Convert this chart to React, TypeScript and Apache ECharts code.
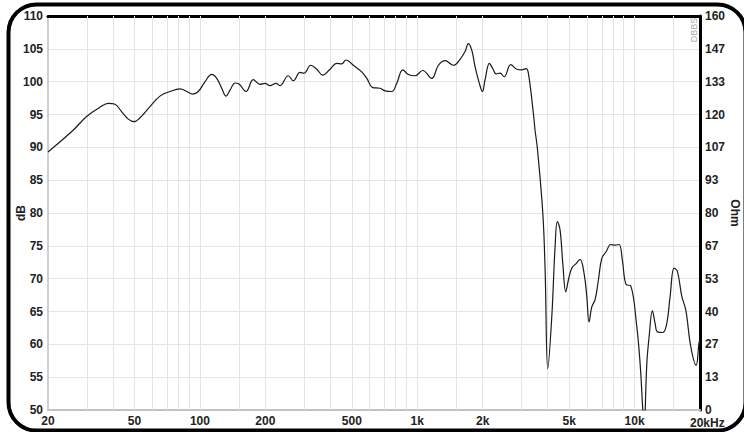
import React, { useEffect, useRef } from "react";
import * as echarts from "echarts";

// Frequency response (SPL)
const freqHz = [
  20, 26.1, 30.1, 34.7, 37.9, 40.7, 43.7, 46.8, 49.8, 53, 58.9, 65.5, 72.8, 81, 87, 92.7, 98.3,
  105.6, 113.3, 119.5, 126, 131.9, 137.6, 145.1, 151.8, 163, 176, 189, 199.4, 210, 224, 233.7,
  255, 269, 288.8, 301, 323.6, 345, 367, 397, 426, 449, 470, 508, 555, 586, 624, 674, 711, 763,
  805, 858, 910, 977, 1060, 1166, 1251, 1343, 1467, 1574, 1660, 1719, 1782, 1845, 1931, 1994,
  2052, 2148, 2226, 2306, 2405, 2510, 2694, 2871, 3026, 3168, 3246, 3422, 3484, 3570, 3782,
  3876, 3988, 4160, 4308, 4414, 4542, 4674, 4824, 4960, 5140, 5380, 5612, 5856, 6026, 6174,
  6356, 6582, 6816, 7066, 7396, 7772, 8134, 8486, 8788, 9140, 9606, 10238, 10602, 10910,
  11050, 11386, 11668, 12080, 12430, 12736, 13486, 14070, 14570, 15200, 15740, 16496, 17210,
  18146, 19192, 19790, 20000,
];
const levelDb = [
  89.3, 92.6, 94.7, 96.1, 96.7, 96.55, 95.4, 94.3, 93.9, 94.5, 96.2, 97.8, 98.5, 98.9, 98.5,
  98.1, 98.5, 100.0, 101.1, 100.5, 99.0, 97.8, 98.7, 99.8, 99.6, 98.5, 100.3, 99.6, 99.75, 99.4,
  99.75, 99.4, 100.9, 100.15, 101.4, 101.3, 102.5, 101.9, 101.0, 101.9, 102.8, 102.7, 103.3,
  102.5, 101.5, 100.5, 99.1, 99.0, 98.6, 98.5, 99.75, 101.8, 101.1, 100.9, 101.7, 100.5, 102.5,
  103.2, 102.5, 103.4, 104.6, 105.8, 104.8, 102.3, 99.75, 98.5, 100.3, 102.8, 102.0, 101.2,
  101.3, 100.75, 102.6, 101.9, 101.8, 102.0, 101.3, 95.2, 92.6, 89.85, 80.0, 71.3, 56.3, 64.2,
  74.9, 78.7, 77.4, 72.3, 68.0, 69.8, 71.6, 72.3, 72.95, 70.8, 67.3, 63.4, 65.7, 66.8, 69.8,
  73.1, 74.1, 75.2, 75.1, 75.2, 72.8, 69.1, 68.9, 62.7, 57.1, 50.0, 47.0, 57.1, 61.2, 65.1,
  63.2, 61.9, 61.8, 63.2, 67.3, 71.6, 71.1, 67.3, 65.2, 59.6, 56.8, 60.2, 60.8,
];

const xLabelFreqs = [20, 50, 100, 200, 500, 1000, 2000, 5000, 10000];
const gridFreqs = [
  30, 40, 50, 60, 70, 80, 90, 100, 150, 200, 300, 400, 500, 600, 700, 800, 900, 1000, 1500,
  2000, 3000, 4000, 5000, 6000, 7000, 8000, 9000, 10000, 15000,
];
const dbMin = 50;
const dbMax = 110;
const dbStep = 5;
const ohmMin = 0;
const ohmMax = 160;
const ohmSteps = 12;
const fMin = 20;
const fMax = 20000;

const FONT = "'Liberation Sans', Arial, Helvetica, sans-serif";

export default function App() {
  const ref = useRef<HTMLDivElement>(null);
  useEffect(() => {
    document.body.style.margin = "0";
    const chart = echarts.init(ref.current!, null, { renderer: "svg" });
    const lg = (f: number) => Math.log10(f);
    const fmtF = (v: number) => {
      const f = Math.round(Math.pow(10, v));
      return f >= 1000 ? f / 1000 + "k" : String(f);
    };
    const labelStyle = {
      color: "#222",
      fontWeight: "bold" as const,
      fontSize: 12,
      fontFamily: FONT,
    };
    chart.setOption({
      animation: false,
      backgroundColor: "#ffffff",
      grid: {
        left: 48,
        right: 44,
        top: 16,
        bottom: 22,
        containLabel: false,
        outerBoundsMode: "none",
      },
      xAxis: [
        {
          type: "value",
          min: lg(fMin),
          max: lg(fMax),
          position: "bottom",
          axisLine: { show: true, onZero: false, lineStyle: { color: "#c2c2c2", width: 2 } },
          axisTick: { show: false },
          splitLine: { show: false },
          axisLabel: {
            ...labelStyle,
            lineHeight: 12,
            customValues: xLabelFreqs.map(lg),
            formatter: (v: number) => fmtF(v),
            margin: 5,
            showMinLabel: true,
            hideOverlap: false,
          },
        },
        {
          type: "value",
          min: lg(fMin),
          max: lg(fMax),
          position: "top",
          axisLine: { show: true, onZero: false, lineStyle: { color: "#000", width: 3 } },
          axisTick: { show: false },
          axisLabel: { show: false },
          splitLine: { show: false },
        },
      ],
      yAxis: [
        {
          type: "value",
          min: dbMin,
          max: dbMax,
          interval: dbStep,
          position: "left",
          name: "dB",
          nameLocation: "middle",
          nameRotate: 90,
          nameGap: 21,
          nameMoveOverlap: false,
          nameTextStyle: { ...labelStyle },
          axisLine: { show: true, onZero: false, lineStyle: { color: "#cfcfcf", width: 2 } },
          axisTick: { show: false },
          splitLine: { show: true, lineStyle: { color: "#e6e6e6", width: 1 } },
          axisLabel: { ...labelStyle, margin: 5 },
        },
        {
          type: "value",
          min: ohmMin,
          max: ohmMax,
          interval: (ohmMax - ohmMin) / ohmSteps,
          position: "right",
          name: "Ohm",
          nameLocation: "middle",
          nameRotate: -90,
          nameGap: 29,
          nameMoveOverlap: false,
          nameTextStyle: { ...labelStyle, lineHeight: 12 },
          axisLine: { show: true, onZero: false, lineStyle: { color: "#000", width: 3 } },
          axisTick: { show: false },
          splitLine: { show: false },
          axisLabel: {
            ...labelStyle,
            lineHeight: 12,
            margin: 5,
            formatter: (v: number) => String(Math.round(v)),
          },
        },
      ],
      series: [
        {
          type: "line",
          xAxisIndex: 0,
          yAxisIndex: 0,
          data: [],
          silent: true,
          z: 1,
          markLine: {
            silent: true,
            symbol: ["none", "none"],
            label: { show: false },
            lineStyle: { color: "#e4e4e4", width: 1, type: "solid" },
            data: gridFreqs.map((f) => ({ xAxis: lg(f) })),
          },
        },
        {
          type: "line",
          xAxisIndex: 0,
          yAxisIndex: 0,
          data: freqHz.map((f, i) => [lg(f), levelDb[i]]),
          showSymbol: false,
          smooth: 0.4,
          clip: true,
          lineStyle: { color: "#1a1a1a", width: 1.2 },
          z: 5,
        },
      ],
      graphic: [
        {
          type: "rect",
          shape: { x: 8.5, y: 4.5, width: 737, height: 426, r: 28 },
          style: { fill: "none", stroke: "#000", lineWidth: 4 },
          z: 10,
        },
        {
          type: "text",
          x: 690,
          y: 423,
          style: {
            text: "20kHz",
            fill: "#222",
            font: `bold 12px ${FONT}`,
            lineHeight: 12,
            textAlign: "left",
            textVerticalAlign: "middle",
          },
          z: 10,
        },
        {
          type: "text",
          x: 694,
          y: 30,
          rotation: Math.PI / 2,
          style: {
            text: "DBBS",
            fill: "#aaaaaa",
            font: `9px ${FONT}`,
            textAlign: "center",
            textVerticalAlign: "middle",
          },
          z: 10,
        },
      ],
    });
    return () => chart.dispose();
  }, []);
  return <div ref={ref} style={{ width: 744, height: 432 }} />;
}
